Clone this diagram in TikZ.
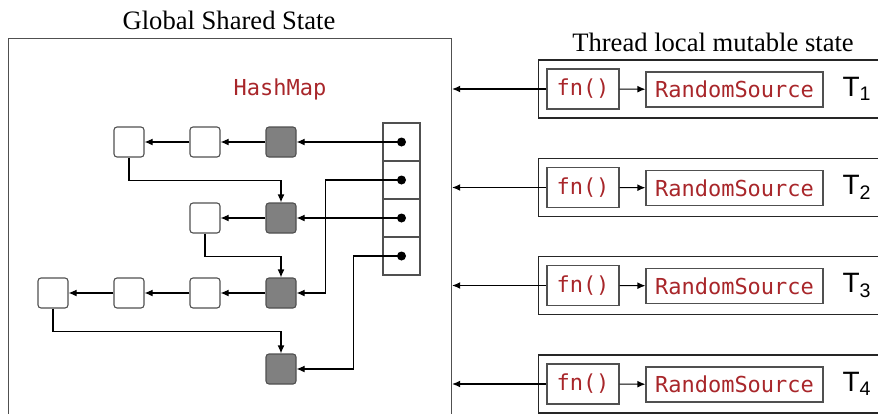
\documentclass[tikz,border=0pt]{standalone}
\usepackage{fontspec}
\setmainfont{Liberation Serif}
\setsansfont{Liberation Sans}
\setmonofont{DejaVu Sans Mono}
\usetikzlibrary{arrows.meta}
\definecolor{codered}{RGB}{168,38,42}
\definecolor{nodegray}{RGB}{128,128,128}
\definecolor{edgegray}{RGB}{80,80,80}
\newcommand{\titlefont}{\fontsize{13.3}{16}\selectfont}
\newcommand{\codefont}{\fontsize{11}{13}\selectfont\ttfamily}
\newcommand{\threadfont}{\fontsize{14}{16}\selectfont\sffamily}

\begin{document}
\begin{tikzpicture}[x=0.5pt, y=-0.5pt, line width=0.55pt,
  >={Latex[length=4pt,width=3.4pt]},
  entry/.style={draw=edgegray, fill=white, rounded corners=1.5pt, minimum size=15pt, inner sep=0pt},
  head/.style={entry, fill=nodegray},
  bucket/.style={draw=edgegray, minimum width=18.5pt, minimum height=19pt, inner sep=0pt},
  codebox/.style={draw=edgegray, font=\codefont, text=codered, inner sep=0pt},
  threadbox/.style={draw=black!85, minimum width=180pt, minimum height=29pt, anchor=west}]
  \path[use as bounding box, clip] (0,0) rectangle (878,413);

  % global shared state
  \node[draw=edgegray, minimum width=221.5pt, minimum height=200pt, anchor=north west] (gss) at (8,38) {};
  \node[font=\titlefont] (gtitle) at (229,20) {Global Shared State};
  \node[font=\codefont, text=codered] (hmap) at (280,89) {HashMap};

  % buckets
  \node[bucket] (b1) at (401.5,142) {};
  \node[bucket] (b2) at (401.5,180) {};
  \node[bucket] (b3) at (401.5,218) {};
  \node[bucket] (b4) at (401.5,256) {};
  \fill (b1.center) circle (4.5);
  \fill (b2.center) circle (4.5);
  \fill (b3.center) circle (4.5);
  \fill (b4.center) circle (4.5);

  % entries
  \node[head] (h1) at (281,142) {};
  \node[entry] (e11) at (205,142) {};
  \node[entry] (e12) at (129,142) {};
  \node[head] (h2) at (281,218) {};
  \node[entry] (e21) at (205,218) {};
  \node[head] (h3) at (281,293) {};
  \node[entry] (e31) at (205,293) {};
  \node[entry] (e32) at (129,293) {};
  \node[entry] (e33) at (53,293) {};
  \node[head] (h4) at (281,369) {};

  \draw[->] (b1.center) -- (h1);
  \draw[->] (h1) -- (e11);
  \draw[->] (e11) -- (e12);
  \draw[->] (e12.south) -- ++(0,23) -| (h2);
  \draw[->] (b2.center) -- ++(-76,0) |- (h3);
  \draw[->] (b3.center) -- (h2);
  \draw[->] (h2) -- (e21);
  \draw[->] (e21.south) -- ++(0,22.5) -| (h3);
  \draw[->] (h3) -- (e31);
  \draw[->] (e31) -- (e32);
  \draw[->] (e32) -- (e33);
  \draw[->] (e33.south) -- ++(0,23) -| (h4);
  \draw[->] (b4.center) -- ++(-48,0) |- (h4);

  % thread local state
  \node[font=\titlefont] (ttitle) at (713,42) {Thread local mutable state};

  \node[threadbox] (t1) at (538,89) {};
  \node[codebox, minimum width=36pt, minimum height=20pt] (f1) at (583,89) {fn()};
  \node[codebox, minimum width=88.5pt, minimum height=17.5pt] (r1) at (734.5,89.5) {RandomSource};
  \node[font=\threadfont] (n1) at (857,89) {T\textsubscript{1}};
  \draw[->] (f1) -- (r1);
  \draw[->] (f1) -- (f1 -| gss.east);

  \node[threadbox] (t2) at (538,187.5) {};
  \node[codebox, minimum width=36pt, minimum height=20pt] (f2) at (583,187.5) {fn()};
  \node[codebox, minimum width=88.5pt, minimum height=17.5pt] (r2) at (734.5,188) {RandomSource};
  \node[font=\threadfont] (n2) at (857,187.5) {T\textsubscript{2}};
  \draw[->] (f2) -- (r2);
  \draw[->] (f2) -- (f2 -| gss.east);

  \node[threadbox] (t3) at (538,285.5) {};
  \node[codebox, minimum width=36pt, minimum height=20pt] (f3) at (583,285.5) {fn()};
  \node[codebox, minimum width=88.5pt, minimum height=17.5pt] (r3) at (734.5,286) {RandomSource};
  \node[font=\threadfont] (n3) at (857,285.5) {T\textsubscript{3}};
  \draw[->] (f3) -- (r3);
  \draw[->] (f3) -- (f3 -| gss.east);

  \node[threadbox] (t4) at (538,384) {};
  \node[codebox, minimum width=36pt, minimum height=20pt] (f4) at (583,384) {fn()};
  \node[codebox, minimum width=88.5pt, minimum height=17.5pt] (r4) at (734.5,384.5) {RandomSource};
  \node[font=\threadfont] (n4) at (857,384) {T\textsubscript{4}};
  \draw[->] (f4) -- (r4);
  \draw[->] (f4) -- (f4 -| gss.east);
\end{tikzpicture}
\end{document}
